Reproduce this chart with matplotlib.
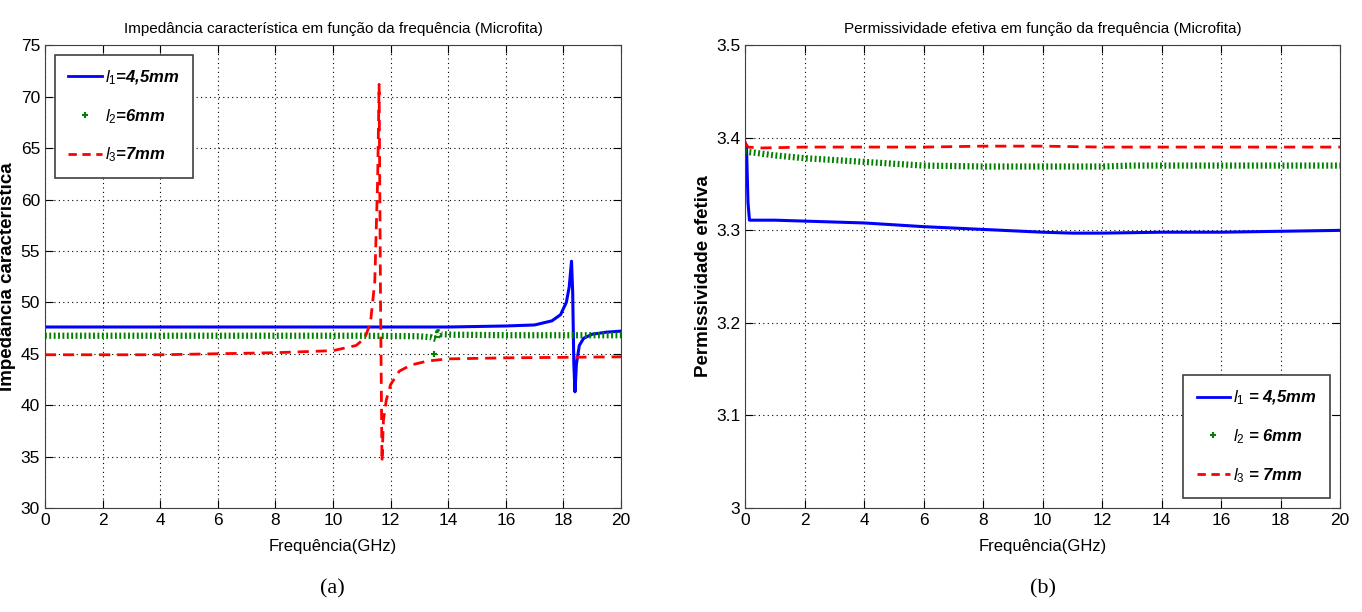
import matplotlib.pyplot as plt
from matplotlib.lines import Line2D

plt.rcParams['font.family'] = ['Liberation Sans', 'DejaVu Sans']
plt.rcParams['mathtext.fontset'] = 'custom'
plt.rcParams['mathtext.it'] = 'Liberation Sans:italic'
plt.rcParams['mathtext.rm'] = 'Liberation Sans'

# impedancia caracteristica (ohm) x frequencia (GHz)
f_z1 = [0, 2, 6, 10, 14, 16, 17, 17.6, 17.9, 18.1, 18.2, 18.28, 18.32, 18.36, 18.4, 18.45, 18.55, 18.7, 19, 19.5, 20]
z1 = [47.6, 47.6, 47.6, 47.6, 47.6, 47.7, 47.8, 48.2, 48.8, 50.0, 51.5, 54.0, 51.0, 44.0, 41.3, 44.0, 45.8, 46.5, 46.9, 47.1, 47.2]

f_z2 = [0, 4, 8, 11, 13, 13.4, 13.6, 13.65, 13.75, 14.2, 16, 18, 20]
z2 = [46.75, 46.75, 46.75, 46.75, 46.7, 46.6, 46.4, 47.1, 46.9, 46.85, 46.8, 46.8, 46.8]
f_z2_pt = [13.5]
z2_pt = [45.0]

f_z3 = [0, 4, 8, 10, 10.8, 11.1, 11.3, 11.45, 11.55, 11.6, 11.65, 11.7, 11.75, 11.85, 12.0, 12.3, 12.7, 13.3, 14, 16, 20]
z3 = [44.9, 44.9, 45.1, 45.3, 45.8, 46.5, 48.0, 52.0, 62.0, 71.2, 50.0, 34.5, 38.5, 40.5, 42.0, 43.3, 43.9, 44.3, 44.5, 44.6, 44.7]

# permissividade efetiva x frequencia (GHz)
f_e1 = [0, 0.05, 0.1, 0.15, 1, 2, 4, 6, 8, 10, 11, 12, 14, 16, 18, 20]
e1 = [3.395, 3.39, 3.33, 3.311, 3.311, 3.31, 3.308, 3.304, 3.301, 3.298, 3.297, 3.297, 3.298, 3.298, 3.299, 3.3]

f_e2 = [0, 0.3, 1, 2, 3, 4, 5, 6, 8, 10, 12, 13, 16, 20]
e2 = [3.385, 3.384, 3.381, 3.378, 3.376, 3.374, 3.372, 3.37, 3.369, 3.369, 3.369, 3.37, 3.37, 3.37]

f_e3 = [0, 0.1, 0.5, 2, 4, 6, 8, 10, 12, 14, 16, 18, 20]
e3 = [3.395, 3.39, 3.389, 3.39, 3.39, 3.39, 3.391, 3.391, 3.39, 3.39, 3.39, 3.39, 3.39]

blue = '#0000ff'
green = '#008000'
red = '#ff0000'

fig = plt.figure(figsize=(13.62, 6.12), dpi=100)
ax1 = fig.add_axes([0.033, 0.170, 0.423, 0.756])
ax2 = fig.add_axes([0.547, 0.170, 0.437, 0.756])

dotted_green = dict(color=green, lw=4.5, dashes=(0.3, 0.4))


def style(ax):
    ax.grid(True, color='black', linestyle=(0, (1, 3)), linewidth=0.8)
    ax.tick_params(direction='in', top=True, right=True, length=6, labelsize=12.5)
    for s in ax.spines.values():
        s.set_color('#404040')
    ax.set_xlim(0, 20)
    ax.set_xticks(range(0, 21, 2))


ax1.plot(f_z1, z1, color=blue, lw=2.2)
ax1.plot(f_z2, z2, **dotted_green)
ax1.plot(f_z2_pt, z2_pt, '+', color=green, ms=4, mew=1.5)
ax1.plot(f_z3, z3, color=red, lw=2, dashes=(4, 2.5))
style(ax1)
ax1.set_ylim(30, 75)
ax1.set_yticks(range(30, 76, 5))
ax1.set_title('Impedância característica em função da frequência (Microfita)', fontsize=11, pad=9)
ax1.set_xlabel('Frequência(GHz)', fontsize=12, labelpad=8)
ax1.set_ylabel('Impedância característica', fontsize=13.5, fontweight='bold', labelpad=3)

ax2.plot(f_e1, e1, color=blue, lw=2.2)
ax2.plot(f_e2, e2, **dotted_green)
ax2.plot(f_e3, e3, color=red, lw=2, dashes=(4, 2.5))
style(ax2)
ax2.set_ylim(3.0, 3.5)
ax2.set_yticks([3, 3.1, 3.2, 3.3, 3.4, 3.5])
ax2.set_yticklabels(['3', '3.1', '3.2', '3.3', '3.4', '3.5'])
ax2.set_title('Permissividade efetiva em função da frequência (Microfita)', fontsize=11, pad=9)
ax2.set_xlabel('Frequência(GHz)', fontsize=12, labelpad=8)
ax2.set_ylabel('Permissividade efetiva', fontsize=13.5, fontweight='bold', labelpad=3)

handles = [Line2D([], [], color=blue, lw=2),
           Line2D([], [], color=green, marker='+', ls='none', ms=4, mew=1.5),
           Line2D([], [], color=red, lw=2, dashes=(3, 2))]
leg_kw = dict(fancybox=False, edgecolor='#404040', framealpha=1, handlelength=2.0,
              handletextpad=0.2, labelspacing=1.2, borderpad=0.8, borderaxespad=0.6,
              prop=dict(size=12, style='italic', weight='bold'))
l1 = ax1.legend(handles, [r'$l_1$=4,5mm', r'$l_2$=6mm', r'$l_3$=7mm'], loc='upper left', **leg_kw)
l2 = ax2.legend(handles, [r'$l_1$ = 4,5mm', r'$l_2$ = 6mm', r'$l_3$ = 7mm'],
                loc='lower right', **leg_kw)
for leg in (l1, l2):
    leg.get_frame().set_linewidth(1.2)

fig.text(0.244, 0.03, '(a)', ha='center', fontsize=16, family=['Liberation Serif', 'DejaVu Serif'])
fig.text(0.766, 0.03, '(b)', ha='center', fontsize=16, family=['Liberation Serif', 'DejaVu Serif'])

fig.savefig('out.png', dpi=100)
